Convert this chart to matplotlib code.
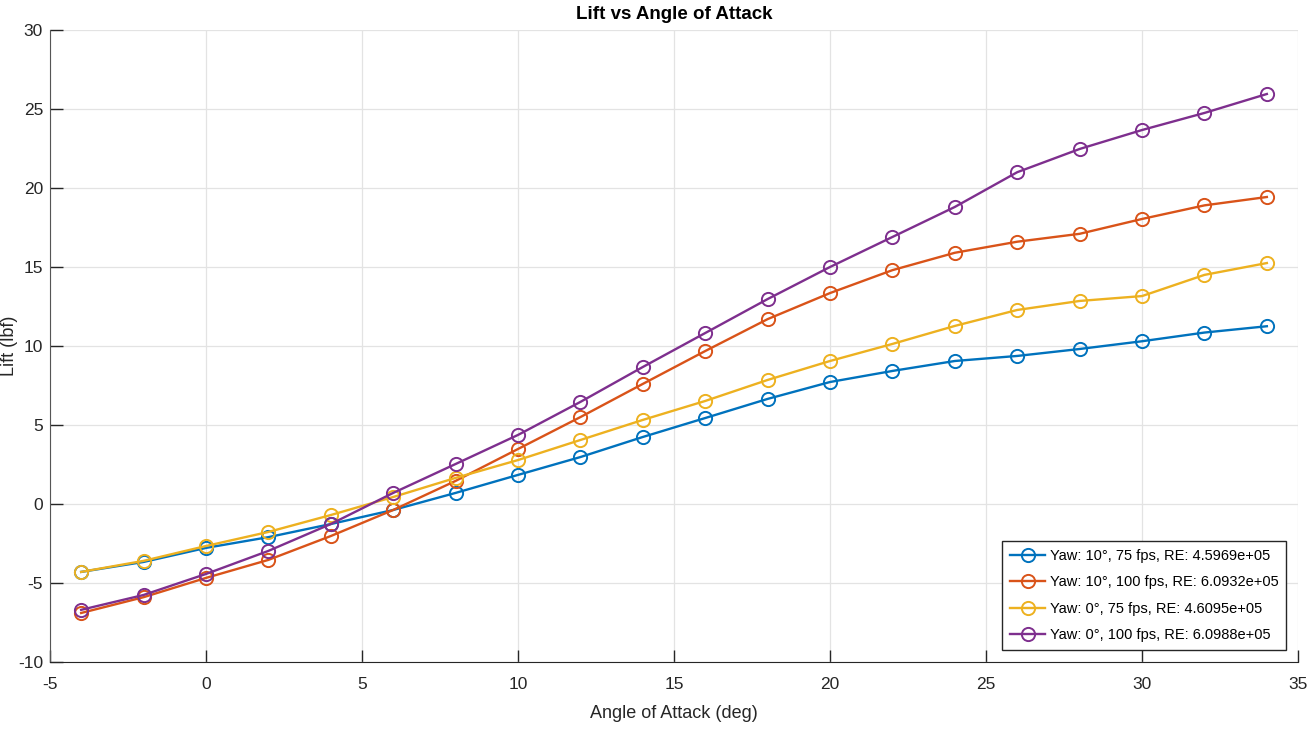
import matplotlib
matplotlib.use('Agg')
import matplotlib.pyplot as plt

plt.rcParams['font.family'] = ['Liberation Sans', 'DejaVu Sans']
plt.rcParams['axes.unicode_minus'] = False

# angle of attack (deg)
aoa = [-4, -2, 0, 2, 4, 6, 8, 10, 12, 14, 16, 18, 20, 22, 24, 26, 28, 30, 32, 34]

# lift (lbf) for each run
lift_y10_75 = [-4.3, -3.67, -2.78, -2.1, -1.27, -0.38, 0.70, 1.84, 2.97, 4.24,
               5.44, 6.65, 7.72, 8.42, 9.05, 9.37, 9.81, 10.3, 10.85, 11.25]
lift_y10_100 = [-6.9, -5.9, -4.68, -3.54, -2.03, -0.38, 1.46, 3.48, 5.5, 7.6,
                9.68, 11.7, 13.35, 14.8, 15.9, 16.6, 17.1, 18.04, 18.9, 19.43]
lift_y0_75 = [-4.3, -3.6, -2.66, -1.77, -0.7, 0.44, 1.65, 2.78, 4.05, 5.32,
              6.52, 7.85, 9.05, 10.13, 11.27, 12.28, 12.85, 13.16, 14.5, 15.25]
lift_y0_100 = [-6.7, -5.76, -4.43, -2.97, -1.27, 0.7, 2.53, 4.37, 6.46, 8.67,
               10.82, 12.97, 15.0, 16.9, 18.8, 21.0, 22.47, 23.67, 24.75, 25.95]

labels = ['Yaw: 10°, 75 fps, RE: 4.5969e+05',
          'Yaw: 10°, 100 fps, RE: 6.0932e+05',
          'Yaw: 0°, 75 fps, RE: 4.6095e+05',
          'Yaw: 0°, 100 fps, RE: 6.0988e+05']
colors = ['#0072BD', '#D95319', '#EDB120', '#7E2F8E']

fig = plt.figure(figsize=(13.08, 7.30), dpi=100)
ax = fig.add_axes([0.0382, 0.0932, 0.9542, 0.8657])

for y, lab, c in zip([lift_y10_75, lift_y10_100, lift_y0_75, lift_y0_100], labels, colors):
    ax.plot(aoa, y, '-o', color=c, lw=1.7, markersize=9.5, markerfacecolor='none',
            markeredgewidth=1.4, label=lab)

ax.set_xlim(-5, 35)
ax.set_ylim(-10, 30)
ax.set_xticks(range(-5, 36, 5))
ax.set_yticks(range(-10, 31, 5))
ax.grid(True, color='#e3e3e3', lw=0.9)
ax.set_axisbelow(True)
ax.spines['top'].set_visible(False)
ax.spines['right'].set_visible(False)
ax.spines['left'].set_color('#555555')
ax.spines['bottom'].set_color('#262626')
ax.tick_params(direction='in', length=9, width=1, labelsize=12.5, colors='#262626')
ax.tick_params(axis='x', pad=11)
ax.tick_params(axis='y', pad=5)

ax.set_title('Lift vs Angle of Attack', fontsize=13.5, fontweight='bold', pad=8)
ax.set_xlabel('Angle of Attack (deg)', fontsize=13, color='#262626', labelpad=9)
ax.set_ylabel('Lift (lbf)', fontsize=13, color='#262626')
ax.yaxis.set_label_coords(-0.026, 0.5)

leg = ax.legend(loc='lower right', fontsize=10.5, frameon=True, fancybox=False,
                edgecolor='#262626', framealpha=1, handlelength=2.4,
                handletextpad=0.3, borderaxespad=0.8, labelspacing=0.85,
                borderpad=0.55)
leg.get_frame().set_linewidth(1.0)

fig.savefig('out.png', dpi=100)
